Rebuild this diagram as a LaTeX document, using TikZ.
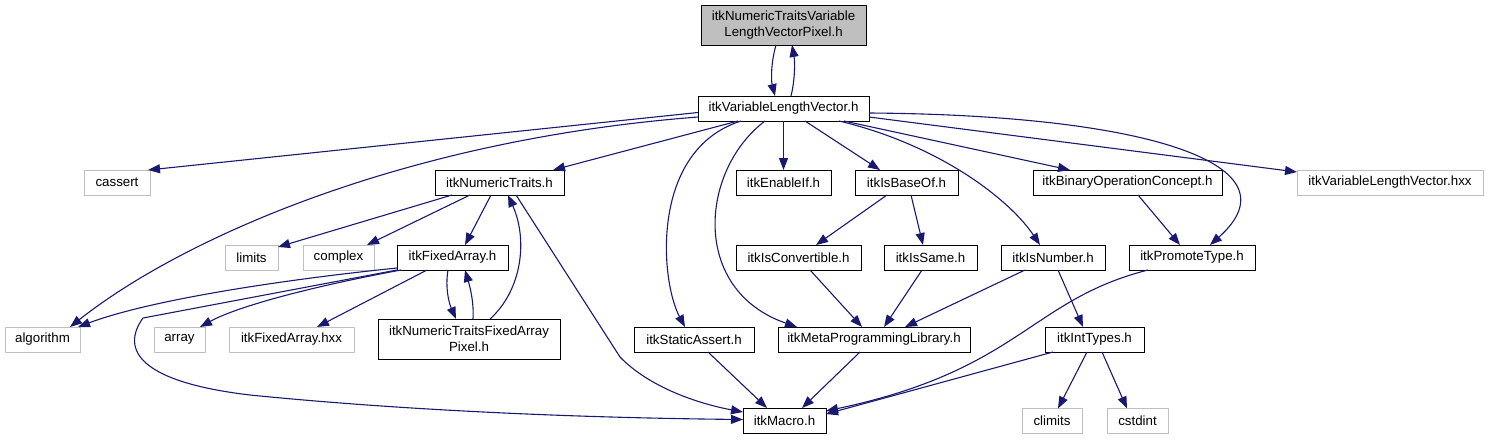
\documentclass[tikz,border=0pt]{standalone}
\usepackage{fontspec}
\setmainfont{Liberation Sans}
\usetikzlibrary{arrows.meta}
\definecolor{cnavy}{HTML}{191970}
\definecolor{cgrey}{HTML}{BFBFBF}
\tikzset{
  every picture/.style={font=\fontsize{13.3}{16}\selectfont},
  hbox/.style={draw=black, line width=1pt, fill=white, inner sep=0pt, outer sep=0pt, minimum height=25pt, align=center},
  sysbox/.style={hbox, draw=cgrey},
  rootbox/.style={hbox, fill=cgrey, minimum height=40pt},
  dep/.style={-{Triangle[length=12pt, width=9pt]}, draw=cnavy, line width=1.1pt},
}

\begin{document}
\begin{tikzpicture}[x=1pt, y=-1pt]
  \useasboundingbox (0,0) rectangle (1489,440);
  % rows of headers
  \node[rootbox, minimum width=165pt] (root) at (783.5,25) {itkNumericTraitsVariable\\LengthVectorPixel.h};
  \node[hbox, minimum width=171pt] (vlv) at (783.5,108.5) {itkVariableLengthVector.h};

  \node[sysbox, minimum width=66pt] (cassert) at (117,182.5) {cassert};
  \node[hbox, minimum width=129pt] (numtr) at (499.5,182.5) {itkNumericTraits.h};
  \node[hbox, minimum width=95pt] (enableif) at (783.5,182.5) {itkEnableIf.h};
  \node[hbox, minimum width=103pt] (isbaseof) at (906.5,182.5) {itkIsBaseOf.h};
  \node[hbox, minimum width=189pt] (binop) at (1127.5,182.5) {itkBinaryOperationConcept.h};
  \node[sysbox, minimum width=186pt] (vlvhxx) at (1390,182.5) {itkVariableLengthVector.hxx};

  \node[sysbox, minimum width=53pt] (limits) at (251.5,257.5) {limits};
  \node[sysbox, minimum width=71pt] (complex) at (338.5,257.5) {complex};
  \node[hbox, minimum width=111pt] (fixedarr) at (452.5,257.5) {itkFixedArray.h};
  \node[hbox, minimum width=125pt] (isconv) at (798.5,257.5) {itkIsConvertible.h};
  \node[hbox, minimum width=93pt] (issame) at (930.5,257.5) {itkIsSame.h};
  \node[hbox, minimum width=104pt] (isnumber) at (1053,257.5) {itkIsNumber.h};
  \node[hbox, minimum width=126pt] (promote) at (1192,257.5) {itkPromoteType.h};

  \node[sysbox, minimum width=75pt] (algorithm) at (42.5,339.5) {algorithm};
  \node[sysbox, minimum width=51pt] (array) at (179.5,339.5) {array};
  \node[sysbox, minimum width=125pt] (fixedhxx) at (291.5,339.5) {itkFixedArray.hxx};
  \node[hbox, minimum width=182pt, minimum height=40pt] (ntfap) at (469,339) {itkNumericTraitsFixedArray\\Pixel.h};
  \node[hbox, minimum width=120pt] (static) at (694,339.5) {itkStaticAssert.h};
  \node[hbox, minimum width=192pt] (mpl) at (874,339.5) {itkMetaProgrammingLibrary.h};
  \node[hbox, minimum width=99pt] (inttypes) at (1094.5,339.5) {itkIntTypes.h};

  \node[hbox, minimum width=83pt] (macro) at (784.5,420.5) {itkMacro.h};
  \node[sysbox, minimum width=60pt] (climits) at (1052,421) {climits};
  \node[sysbox, minimum width=61pt] (cstdint) at (1137.5,421) {cstdint};

  % root and its first include
  \draw[dep] ([xshift=-7.5pt]root.south) .. controls (771,62) and (771,80) .. ([xshift=-8.5pt]vlv.north);
  \draw[dep] ([xshift=7.5pt]vlv.north) .. controls (795,80) and (795,62) .. ([xshift=8.5pt]root.south);

  % itkVariableLengthVector.h
  \draw[dep] ([yshift=-4pt]vlv.west) -- ([xshift=-2pt]cassert.north east);
  \draw[dep] ([yshift=4pt]vlv.south west) .. controls (400,140) and (180,240) .. ([xshift=-10pt]algorithm.north east);
  \draw[dep] ([xshift=40pt]vlv.south west) -- ([xshift=-11pt]numtr.north east);
  \draw[dep] ([xshift=43pt]vlv.south west) .. controls (650,150) and (660,280) .. ([xshift=51pt]static.north west);
  \draw[dep] ([xshift=67pt]vlv.south west) .. controls (700,170) and (690,290) .. ([xshift=19pt]mpl.north west);
  \draw[dep] (vlv.south) -- (enableif.north);
  \draw[dep] ([xshift=21.5pt]vlv.south) -- ([xshift=25pt]isbaseof.north west);
  \draw[dep] ([xshift=-30pt]vlv.south east) .. controls (940,145) and (1010,200) .. ([xshift=39pt]isnumber.north west);
  \draw[dep] ([xshift=-25pt]vlv.south east) -- ([xshift=37pt]binop.north west);
  \draw[dep] ([yshift=-4.5pt]vlv.east) .. controls (1150,115) and (1300,165) .. ([xshift=81pt]promote.north west);
  \draw[dep] ([yshift=4pt]vlv.south east) -- ([yshift=-2pt]vlvhxx.north west);

  % itkNumericTraits.h
  \draw[dep] ([xshift=17pt]numtr.south west) -- ([yshift=-2pt]limits.north east);
  \draw[dep] ([xshift=35pt]numtr.south west) -- ([xshift=-7pt]complex.north east);
  \draw[dep] ([xshift=56pt]numtr.south west) -- ([xshift=68pt]fixedarr.north west);
  \draw[dep] ([xshift=81pt]numtr.south west) -- (620,357) .. controls (650,388) and (700,404) .. ([yshift=-4pt]macro.north west);

  % itkFixedArray.h
  \draw[dep] ([yshift=2pt]fixedarr.south west) .. controls (280,280) and (150,300) .. ([xshift=-2pt]algorithm.north east);
  \draw[dep] (fixedarr.south west) -- (143,318) .. controls (120,350) and (140,382) .. (250,395)
    .. controls (420,412) and (600,418) .. ([yshift=1pt]macro.west);
  \draw[dep] ([xshift=4pt]fixedarr.south west) .. controls (320,285) and (240,305) .. ([xshift=-5pt]array.north east);
  \draw[dep] ([xshift=30pt]fixedarr.south west) -- ([xshift=88pt]fixedhxx.north west);
  \draw[dep] ([xshift=51pt]fixedarr.south west) .. controls (445,288) and (449,303) .. ([xshift=78pt]ntfap.north west);
  \draw[dep] ([xshift=95pt]ntfap.north west) .. controls (474,302) and (470,287) .. ([xshift=68pt]fixedarr.south west);
  \draw[dep] ([xshift=112pt]ntfap.north west) .. controls (522,290) and (528,240) .. ([xshift=73pt]numtr.south west);

  % traits helpers
  \draw[dep] ([xshift=32pt]isbaseof.south west) -- ([xshift=80pt]isconv.north west);
  \draw[dep] ([xshift=56pt]isbaseof.south west) -- ([xshift=39pt]issame.north west);
  \draw[dep] ([xshift=74pt]isconv.south west) -- ([xshift=84pt]mpl.north west);
  \draw[dep] ([xshift=38pt]issame.south west) -- ([xshift=106pt]mpl.north west);
  \draw[dep] ([xshift=24pt]isnumber.south west) -- ([xshift=127pt]mpl.north west);
  \draw[dep] ([xshift=57pt]isnumber.south west) -- ([xshift=38pt]inttypes.north west);
  \draw[dep] ([xshift=105pt]binop.south west) -- ([xshift=51pt]promote.north west);
  \draw[dep] ([xshift=19pt]promote.south west) .. controls (1030,300) and (1020,370) .. ([yshift=-3pt]macro.north east);

  % down to itkMacro.h
  \draw[dep] ([xshift=8pt]inttypes.south west) -- ([yshift=-6pt]macro.north east);
  \draw[dep] ([xshift=42pt]inttypes.south west) -- ([xshift=36pt]climits.north west);
  \draw[dep] ([xshift=57pt]inttypes.south west) -- ([xshift=20pt]cstdint.north west);
  \draw[dep] ([xshift=74pt]static.south west) -- ([xshift=24pt]macro.north west);
  \draw[dep] ([xshift=82pt]mpl.south west) -- ([xshift=59pt]macro.north west);
\end{tikzpicture}
\end{document}
